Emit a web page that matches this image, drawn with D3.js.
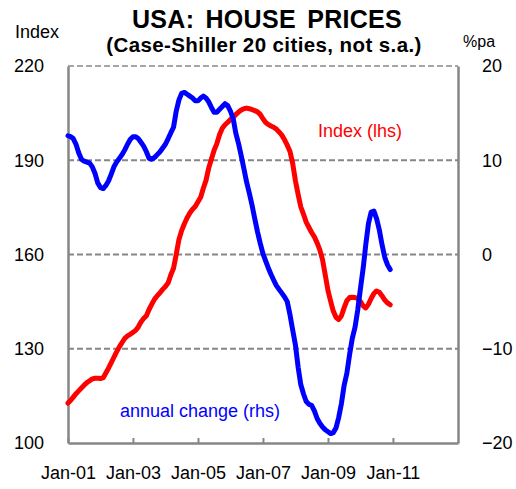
<!DOCTYPE html>
<html>
<head>
<meta charset="utf-8">
<script src="https://cdn.jsdelivr.net/npm/d3@7"></script>
<style>
  body { margin: 0; background: #fff; }
  svg { font-family: "Liberation Sans", Arial, sans-serif; }
</style>
</head>
<body>
<svg id="chart" width="516" height="489"></svg>
<script>
// Case-Shiller 20 city index (not s.a.), monthly from Jan-01
const indexValues = [
  112.7, 113.6, 114.6, 115.7, 116.6, 117.5, 118.4, 119.2, 119.8, 120.4, 120.6, 120.6,
  120.5, 120.8, 122.2, 123.8, 125.5, 127.3, 129.0, 130.6, 132.0, 133.3, 134.1, 134.6,
  135.2, 135.9, 136.9, 138.5, 139.6, 140.5, 142.5, 144.2, 145.8, 146.9, 147.8, 148.9,
  149.8, 151.0, 153.5, 155.6, 160.0, 164.8, 167.6, 169.8, 171.7, 173.2, 174.4, 175.3,
  176.8, 178.3, 181.0, 183.6, 187.5, 190.4, 193.2, 195.3, 198.2, 200.2, 201.3, 202.1,
  203.0, 203.7, 204.5, 205.3, 206.0, 206.4, 206.6, 206.4, 206.1, 205.8, 205.4, 204.6,
  203.2, 202.0, 201.4, 200.9, 200.5, 199.9, 199.0, 198.0, 196.5, 194.8, 192.8, 189.0,
  183.5, 179.0, 175.2, 172.8, 170.3, 168.6, 167.0, 165.6, 163.7, 161.5, 158.3, 153.5,
  148.5, 145.0, 142.0, 140.0, 139.3, 140.5, 143.0, 145.3, 146.3, 146.4, 146.3, 146.0,
  145.0, 143.6, 143.0, 144.2, 146.0, 147.6, 148.4, 148.0, 146.8, 145.5, 144.6, 144.0
];

// annual change, %pa
const annualChange = [
  12.6, 12.5, 12.3, 11.7, 10.8, 10.1, 9.9, 9.8, 9.7, 9.3, 8.6, 7.6,
  7.1, 7.0, 7.3, 7.8, 8.5, 9.3, 9.8, 10.2, 10.6, 11.1, 11.7, 12.2,
  12.5, 12.5, 12.3, 11.9, 11.5, 10.9, 10.2, 10.1, 10.3, 10.6, 10.9, 11.3,
  11.7, 12.3, 12.9, 13.5, 15.2, 16.4, 17.1, 17.2, 17.0, 16.8, 16.6, 16.3,
  16.3, 16.6, 16.8, 16.6, 16.2, 15.6, 15.1, 15.1, 15.4, 15.7, 16.0, 15.8,
  15.2, 14.4, 12.9, 11.8, 10.5, 9.1, 7.7, 6.5, 5.2, 3.8, 2.4, 1.2,
  0.1, -0.7, -1.4, -2.1, -2.7, -3.3, -3.7, -4.1, -4.5, -5.0, -6.4, -8.0,
  -9.6, -12.0, -13.8, -14.8, -15.6, -15.9, -16.0, -16.6, -17.4, -17.9, -18.3, -18.6,
  -18.8, -19.0, -18.9, -18.4, -17.3, -15.8, -13.9, -12.6, -10.6, -8.9, -7.7, -5.9,
  -3.6, -1.4, 1.0, 3.3, 4.5, 4.6, 3.8, 2.6, 1.0, -0.3, -1.1, -1.6
];

const leftTicks  = [100, 130, 160, 190, 220];
const rightTicks = [-20, -10, 0, 10, 20];
const tickYears  = [2001, 2003, 2005, 2007, 2009, 2011];

const startMonth = new Date(2001, 0, 1);
const months = indexValues.map((v, i) => d3.timeMonth.offset(startMonth, i));

const plot = {left: 68, right: 458, top: 66, bottom: 443};
const gridColor = "#868686";
const fontFamily = "Liberation Sans, Arial, sans-serif";

const svg = d3.select("#chart");

const x = d3.scaleTime()
    .domain([startMonth, new Date(2013, 0, 1)])
    .range([plot.left, plot.right]);

const yL = d3.scaleLinear().domain([100, 220]).range([plot.bottom, plot.top]);
const yR = d3.scaleLinear().domain([-20, 20]).range([plot.bottom, plot.top]);

// dashed gridlines (including top border)
svg.append("g")
    .selectAll("line")
    .data(leftTicks.filter(d => d > 100))
    .join("line")
    .attr("x1", plot.left)
    .attr("x2", plot.right)
    .attr("y1", d => yL(d))
    .attr("y2", d => yL(d))
    .attr("stroke", (d) => d == 220 ? "#a6a6a6" : gridColor)
    .attr("stroke-width", 2)
    .attr("stroke-dasharray", "6,3");

// left axis
svg.append("g")
    .attr("transform", `translate(${plot.left},0)`)
    .call(d3.axisLeft(yL).tickValues(leftTicks).tickSize(0).tickPadding(24))
    .call(g => g.select(".domain").attr("stroke", gridColor).attr("stroke-width", 2.5))
    .call(g => g.selectAll(".tick text").attr("font-size", "18px").attr("fill", "#000")
        .attr("font-family", fontFamily));

// right axis
svg.append("g")
    .attr("transform", `translate(${plot.right},0)`)
    .call(d3.axisRight(yR).tickValues(rightTicks).tickSize(0).tickPadding(24))
    .call(g => g.select(".domain").attr("stroke", gridColor).attr("stroke-width", 2.5))
    .call(g => g.selectAll(".tick text").attr("font-size", "18px").attr("fill", "#000")
        .attr("font-family", fontFamily));

// bottom axis, ticks pointing up into the plot
svg.append("g")
    .attr("transform", `translate(0,${plot.bottom})`)
    .call(d3.axisBottom(x)
        .tickValues(tickYears.map(y => new Date(y, 0, 1)))
        .tickFormat(d3.timeFormat("%b-%y"))
        .tickSizeInner(-5)
        .tickSizeOuter(0)
        .tickPadding(23))
    .call(g => g.select(".domain").attr("stroke", gridColor).attr("stroke-width", 2.5))
    .call(g => g.selectAll(".tick line").attr("stroke", gridColor).attr("stroke-width", 2))
    .call(g => g.selectAll(".tick text").attr("font-size", "18px").attr("fill", "#000")
        .attr("font-family", fontFamily));

// lines
const lineL = d3.line()
    .x((d, i) => x(months[i]))
    .y(d => yL(d));

const lineR = d3.line()
    .x((d, i) => x(months[i]))
    .y(d => yR(d));

svg.append("path")
    .datum(indexValues)
    .attr("fill", "none")
    .attr("stroke", "#ff0000")
    .attr("stroke-width", 5)
    .attr("stroke-linejoin", "round")
    .attr("stroke-linecap", "round")
    .attr("d", lineL);

svg.append("path")
    .datum(annualChange)
    .attr("fill", "none")
    .attr("stroke", "#0000ff")
    .attr("stroke-width", 5)
    .attr("stroke-linejoin", "round")
    .attr("stroke-linecap", "round")
    .attr("d", lineR);

// titles and labels
svg.append("text")
    .attr("x", 267).attr("y", 28)
    .attr("text-anchor", "middle")
    .attr("font-size", "25px").attr("font-weight", "bold")
    .attr("word-spacing", "4px")
    .attr("letter-spacing", "0.3px")
    .text("USA: HOUSE PRICES");

svg.append("text")
    .attr("x", 264).attr("y", 52)
    .attr("text-anchor", "middle")
    .attr("font-size", "20.5px").attr("font-weight", "bold")
    .attr("letter-spacing", "0.4px")
    .text("(Case-Shiller 20 cities, not s.a.)");

svg.append("text")
    .attr("x", 15).attr("y", 38)
    .attr("font-size", "18px")
    .text("Index");

svg.append("text")
    .attr("x", 463).attr("y", 47)
    .attr("font-size", "16px")
    .text("%pa");

svg.append("text")
    .attr("x", 318).attr("y", 137)
    .attr("font-size", "18px")
    .attr("fill", "#ff0000")
    .text("Index (lhs)");

svg.append("text")
    .attr("x", 120).attr("y", 417)
    .attr("font-size", "18px")
    .attr("fill", "#0000ff")
    .text("annual change (rhs)");
</script>
</body>
</html>
